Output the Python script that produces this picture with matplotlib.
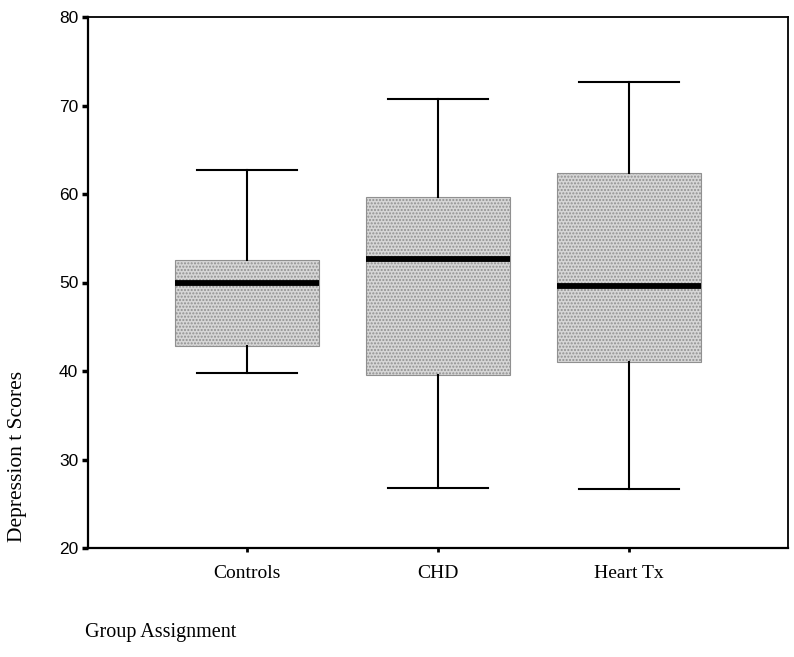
import matplotlib
matplotlib.use("Agg")
import matplotlib.pyplot as plt

# box plot summary values
groups = ["Controls", "CHD", "Heart Tx"]
whisker_low = [39.8, 26.8, 26.7]
q1 = [42.8, 39.6, 41.0]
median = [50.0, 52.6, 49.6]
q3 = [52.5, 59.7, 62.4]
whisker_high = [62.7, 70.7, 72.7]

stats = []
for i in range(len(groups)):
    stats.append({
        "label": groups[i],
        "whislo": whisker_low[i],
        "q1": q1[i],
        "med": median[i],
        "q3": q3[i],
        "whishi": whisker_high[i],
        "fliers": [],
    })

plt.rcParams["hatch.color"] = "#a0a0a0"

fig = plt.figure(figsize=(7.94, 6.57), dpi=100)
ax = fig.add_axes([88 / 794, 1 - 548 / 657, 700 / 794, 531 / 657])

positions = [1, 2, 3]
ax.bxp(stats, positions=positions, widths=0.75, capwidths=0.52,
       patch_artist=True, showfliers=False,
       boxprops=dict(facecolor="#d6d6d6", edgecolor="#909090",
                     linewidth=0.8, hatch="....."),
       medianprops=dict(color="black", linewidth=4.2, solid_capstyle="butt"),
       whiskerprops=dict(color="black", linewidth=1.5),
       capprops=dict(color="black", linewidth=1.5))

ax.set_xlim(2 - 700 / 2 / 191, 2 + 700 / 2 / 191)
ax.set_ylim(20, 80)
ax.set_yticks([20, 30, 40, 50, 60, 70, 80])
ax.set_xticks(positions)
ax.set_xticklabels(groups, family="Liberation Serif", fontsize=14)

for lab in ax.get_yticklabels():
    lab.set_family("Liberation Sans")
    lab.set_fontsize(12.5)

ax.tick_params(axis="y", length=4, width=2.5, pad=3, direction="out")
ax.tick_params(axis="x", length=3, width=2, pad=9, direction="out")

for side in ["left", "bottom"]:
    ax.spines[side].set_linewidth(1.6)
for side in ["top", "right"]:
    ax.spines[side].set_linewidth(1.3)

fig.text(18 / 794, 1 - 456 / 657, "Depression t Scores", rotation=90,
         ha="center", va="center", family="Liberation Serif", fontsize=15.5)
fig.text(85 / 794, 1 - 632 / 657, "Group Assignment",
         ha="left", va="center", family="Liberation Serif", fontsize=14.5)

fig.savefig("out.png", dpi=100)
